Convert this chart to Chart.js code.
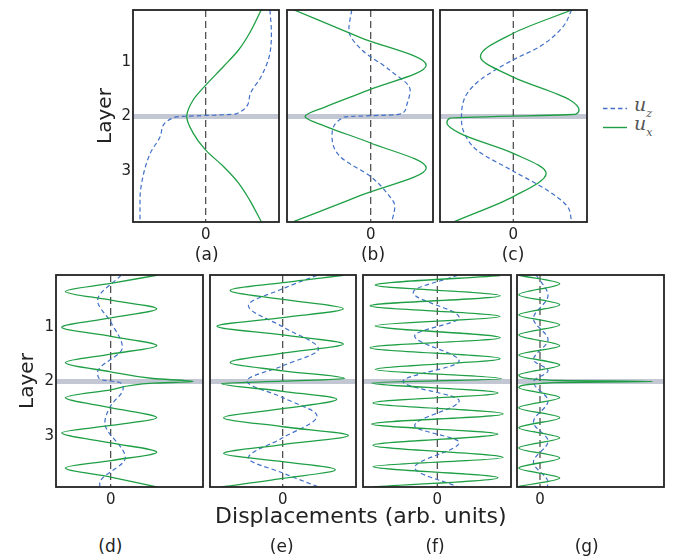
<!DOCTYPE html>
<html>
<head>
<meta charset="utf-8">
<script src="https://cdn.jsdelivr.net/npm/chart.js@4.4.1/dist/chart.umd.min.js"></script>
<style>
    body { margin: 0; width: 680px; height: 556px; position: relative; background: #fff; overflow: hidden; font-family: "DejaVu Sans", sans-serif; color: #222; }
    .box { position: absolute; }
    .lbl { position: absolute; transform: translate(-50%, -50%); white-space: nowrap; font-size: 17px; line-height: 1; }
    .legt { position: absolute; font-family: "DejaVu Serif", serif; font-style: italic; font-size: 19px; line-height: 20px; color: #555; }
    .legt sub { font-size: 11px; position: relative; top: 1px; }
</style>
</head>
<body>
<div id="charts"></div>
<div class="lbl" style="left:360.8px;top:516px;font-size:22px">Displacements (arb. units)</div>

<svg class="box" style="left:603px;top:106px" width="24" height="5"><line x1="0" y1="2.5" x2="24" y2="2.5" stroke="#4070c8" stroke-width="1.4" stroke-dasharray="4.5 3"/></svg>
<div class="legt" style="left:634px;top:94px">u<sub>z</sub></div>
<svg class="box" style="left:603px;top:124.5px" width="24" height="5"><line x1="0" y1="2.5" x2="24" y2="2.5" stroke="#1f9f45" stroke-width="1.4"/></svg>
<div class="legt" style="left:634px;top:113px">u<sub>x</sub></div>

<script>
// axis ticks and ranges (layer index runs downwards)
const layerTicks = [1, 2, 3];
const dispTicks = [0];
const layerMin = 0.03, layerMax = 3.95;
const interfaceLayer = 2;
const panelNames = ['(a)', '(b)', '(c)', '(d)', '(e)', '(f)', '(g)'];

// (a)
const aUxLayer = [0.03, 0.46, 0.77, 1.08, 1.42, 1.69, 2.0, 2.31, 2.62, 2.92, 3.23, 3.54, 3.94];
const aUx = [0.76, 0.60, 0.45, 0.24, 0, -0.17, -0.26, -0.17, 0, 0.24, 0.45, 0.60, 0.76];
const aUzLayer = [0.03, 0.46, 0.89, 1.26, 1.63, 1.95, 2.01, 2.31, 2.68, 3.11, 3.54, 3.94];
const aUz = [0.88, 0.90, 0.87, 0.76, 0.60, 0.42, -0.42, -0.61, -0.76, -0.86, -0.90, -0.90];

// (b)
const bUxLayer = [0.03, 0.54, 1.05, 1.52, 1.82, 2.0, 2.18, 2.48, 2.95, 3.45, 3.94];
const bUx = [-1.05, -0.14, 0.76, -0.05, -0.62, -0.90, -0.62, -0.02, 0.76, -0.12, -1.05];
const bUzLayer = [0.03, 0.40, 0.77, 1.14, 1.51, 1.85, 1.96, 2.01, 2.37, 2.74, 3.11, 3.41, 3.66, 3.94];
const bUz = [-0.26, -0.30, -0.12, 0.26, 0.54, 0.48, 0.38, -0.37, -0.53, -0.42, 0, 0.22, 0.33, 0.29];

// (c)
const cUxLayer = [0.03, 0.46, 0.89, 1.27, 1.69, 1.88, 1.955, 2.03, 2.12, 2.31, 2.68, 3.05, 3.48, 3.94];
const cUx = [0.80, 0, -0.45, 0, 0.77, 0.90, 0.86, -0.87, -0.91, -0.73, 0, 0.45, 0, -0.80];
const cUzLayer = [0.03, 0.34, 0.71, 0.95, 1.32, 1.57, 1.82, 2.05, 2.31, 2.62, 3.01, 3.35, 3.66, 3.94];
const cUz = [0.80, 0.68, 0.36, 0, -0.45, -0.63, -0.70, -0.71, -0.67, -0.50, 0, 0.45, 0.74, 0.80];

// (d)
const dUxLayer = [0.036, 0.185, 0.333, 0.494, 0.656, 0.823, 0.996, 1.164, 1.337, 1.492, 1.647, 1.820, 1.944, 2.0,
    2.031, 2.155, 2.297, 2.483, 2.669, 2.812, 2.948, 3.134, 3.307, 3.462, 3.599, 3.766, 3.95];
const dUx = [0.63, 0, -0.62, 0, 0.63, 0, -0.67, 0, 0.63, 0, -0.62, 0, 0.58, 1.13,
    0.58, 0, -0.62, 0, 0.63, 0, -0.67, 0, 0.63, 0, -0.62, 0, 0.63];
const dUzLayer = [0.036, 0.50, 0.90, 1.37, 1.83, 1.96, 2.02, 2.13, 2.45, 2.76, 3.41, 3.88, 3.95];
const dUz = [0.14, -0.18, 0, 0.16, -0.18, -0.15, 0.13, 0.17, 0, -0.08, 0.20, -0.15, -0.15];

// (e)
const eUxLayer = [0.036, 0.172, 0.315, 0.482, 0.656, 0.817, 0.978, 1.139, 1.306, 1.473, 1.647, 1.802, 1.944, 1.994,
    2.037, 2.180, 2.328, 2.502, 2.669, 2.836, 2.998, 3.165, 3.332, 3.481, 3.629, 3.791, 3.95];
const eUx = [0.83, 0, -0.72, 0, 0.83, 0, -0.90, 0, 0.83, 0, -0.72, 0, 0.85, 0,
    -0.84, 0, 0.74, 0, -0.81, 0, 0.90, 0, -0.81, 0, 0.72, 0, -0.84];
const eUzLayer = [0.036, 0.284, 0.594, 0.996, 1.399, 1.709, 1.988, 2.297, 2.638, 3.041, 3.413, 3.691, 3.939];
const eUz = [0.47, 0, -0.47, 0.01, 0.49, 0, -0.49, 0, 0.47, 0, -0.47, 0, 0.47];

// (f)
const fUxLayer = [0.041, 0.216, 0.413, 0.599, 0.797, 0.970, 1.188, 1.374, 1.578, 1.777, 1.950,
    2.024, 2.210, 2.396, 2.600, 2.786, 2.972, 3.177, 3.405, 3.572, 3.777, 3.95];
const fUx = [0.86, -0.85, 0.86, -0.92, 0.86, -0.85, 0.86, -0.92, 0.86, -0.85, 0.88,
    -0.90, 0.83, -0.88, 0.90, -0.90, 0.83, -0.88, 0.90, -0.88, 0.83, -0.88];
const fUzLayer = [0.035, 0.352, 0.816, 1.156, 1.621, 2.0, 2.353, 2.818, 3.126, 3.591, 3.95];
const fUz = [0.28, -0.33, 0.30, -0.31, 0.30, -0.47, 0.30, -0.31, 0.30, -0.31, 0.28];

// (g)
const gUxLayer = [0.035, 0.190, 0.394, 0.580, 0.766, 0.952, 1.138, 1.336, 1.509, 1.695, 1.881, 1.981, 2.0, 2.019,
    2.112, 2.297, 2.483, 2.669, 2.855, 3.041, 3.227, 3.413, 3.599, 3.784, 3.939];
const gUx = [-0.29, 0.27, -0.29, 0.27, -0.29, 0.27, -0.29, 0.27, -0.29, 0.27, -0.29, 0.25, 1.54, 0.2,
    -0.29, 0.27, -0.29, 0.27, -0.29, 0.27, -0.29, 0.27, -0.29, 0.27, -0.29];
const gUzLayer = [0.035, 0.41, 0.835, 1.225, 1.597, 1.801, 2.006, 2.359, 2.749, 3.102, 3.493, 3.865, 3.95];
const gUz = [-0.05, 0.11, -0.09, 0.11, -0.09, 0.11, -0.09, 0.11, -0.09, 0.11, -0.09, 0.11, 0.10];

var GREEN = '#1f9f45', BLUE = '#4070c8', BAND = '#c3c6d3';
Chart.defaults.font.family = '"DejaVu Sans", sans-serif';
Chart.defaults.color = '#222';

// frame box, layout in px: l/t/w/h of plot frame, axis = width kept for layer labels
var panels = [
    { l: 133, t: 10, w: 146, h: 212, xMin: -0.996, xMax: 1.004, axis: 43, ux: [aUxLayer, aUx], uz: [aUzLayer, aUz], lx: 206.7, ly: 254 },
    { l: 287, t: 10, w: 146, h: 212, xMin: -1.147, xMax: 0.853, axis: 0, ux: [bUxLayer, bUx], uz: [bUzLayer, bUz], lx: 373, ly: 254 },
    { l: 440, t: 10, w: 147, h: 212, xMin: -1.004, xMax: 1.010, axis: 0, ux: [cUxLayer, cUx], uz: [cUzLayer, cUz], lx: 513, ly: 254 },
    { l: 56, t: 275, w: 147, h: 212, xMin: -0.749, xMax: 1.264, axis: 44, ux: [dUxLayer, dUx], uz: [dUzLayer, dUz], lx: 110.3, ly: 546 },
    { l: 210, t: 275, w: 146, h: 212, xMin: -0.996, xMax: 1.004, axis: 0, ux: [eUxLayer, eUx], uz: [eUzLayer, eUz], lx: 281.7, ly: 546 },
    { l: 363, t: 275, w: 148, h: 212, xMin: -1.018, xMax: 1.010, axis: 0, ux: [fUxLayer, fUx], uz: [fUzLayer, fUz], lx: 435, ly: 546 },
    { l: 517, t: 275, w: 147, h: 212, xMin: -0.315, xMax: 1.699, axis: 0, ux: [gUxLayer, gUx], uz: [gUzLayer, gUz], lx: 586.7, ly: 546 }
];

var framePlugin = {
    id: 'frame',
    afterDatasetsDraw: function (chart) {
        var a = chart.chartArea, c = chart.ctx;
        c.save();
        c.strokeStyle = '#222';
        c.lineWidth = 1.8;
        c.strokeRect(a.left, a.top, a.right - a.left, a.bottom - a.top);
        c.restore();
    }
};

function toPoints(layers, values) {
    return layers.map(function (l, i) { return { x: values[i], y: l }; });
}

function makePanel(p, i) {
    var padL = p.axis ? p.axis : 3;
    var box = document.createElement('div');
    box.className = 'box';
    box.style.left = (p.l - padL) + 'px';
    box.style.top = (p.t - 3) + 'px';
    box.style.width = (p.w + padL + 3) + 'px';
    box.style.height = (p.h + 3 + 26) + 'px';
    var cv = document.createElement('canvas');
    box.appendChild(cv);
    document.getElementById('charts').appendChild(box);

    var lbl = document.createElement('div');
    lbl.className = 'lbl';
    lbl.style.left = p.lx + 'px';
    lbl.style.top = p.ly + 'px';
    lbl.textContent = panelNames[i];
    document.body.appendChild(lbl);

    new Chart(cv.getContext('2d'), {
        type: 'line',
        data: {
            datasets: [
                { label: 'u_x', data: toPoints(p.ux[0], p.ux[1]), borderColor: GREEN, borderWidth: 1.3,
                  cubicInterpolationMode: 'monotone', order: 1 },
                { label: 'u_z', data: toPoints(p.uz[0], p.uz[1]), borderColor: BLUE, borderWidth: 1.2,
                  borderDash: [4.5, 3], cubicInterpolationMode: 'monotone', order: 2 },
                { label: 'zero', data: [{ x: 0, y: layerMin }, { x: 0, y: layerMax }], borderColor: '#333',
                  borderWidth: 1.1, borderDash: [7, 4], tension: 0, order: 3 },
                { label: 'interface', data: [{ x: p.xMin, y: interfaceLayer }, { x: p.xMax, y: interfaceLayer }],
                  borderColor: BAND, borderWidth: 5, tension: 0, order: 4 }
            ]
        },
        options: {
            indexAxis: 'y',
            animation: false,
            responsive: true,
            maintainAspectRatio: false,
            events: [],
            layout: { padding: { left: p.axis ? 0 : 3, top: 3, right: 3, bottom: 0 } },
            elements: { point: { radius: 0 } },
            plugins: { legend: { display: false }, tooltip: { enabled: false } },
            scales: {
                x: {
                    type: 'linear', min: p.xMin, max: p.xMax,
                    grid: { display: false, drawTicks: false },
                    border: { display: false },
                    afterBuildTicks: function (s) { s.ticks = dispTicks.map(function (v) { return { value: v }; }); },
                    afterFit: function (s) { s.height = 26; s.paddingLeft = 0; s.paddingRight = 0; },
                    ticks: { padding: 4, font: { size: 15 }, callback: function (v) { return String(v); } }
                },
                y: {
                    type: 'linear', reverse: true, min: layerMin, max: layerMax,
                    display: !!p.axis,
                    grid: { display: false, drawTicks: false },
                    border: { display: false },
                    afterBuildTicks: function (s) { s.ticks = layerTicks.map(function (v) { return { value: v }; }); },
                    afterFit: function (s) { s.width = p.axis; s.paddingTop = 0; s.paddingBottom = 0; },
                    ticks: { padding: 2, font: { size: 15 }, callback: function (v) { return String(v); } },
                    title: { display: true, text: 'Layer', font: { size: 20 }, padding: { top: 4, bottom: 4 } }
                }
            }
        },
        plugins: [framePlugin]
    });
}

panels.forEach(makePanel);
</script>
</body>
</html>
